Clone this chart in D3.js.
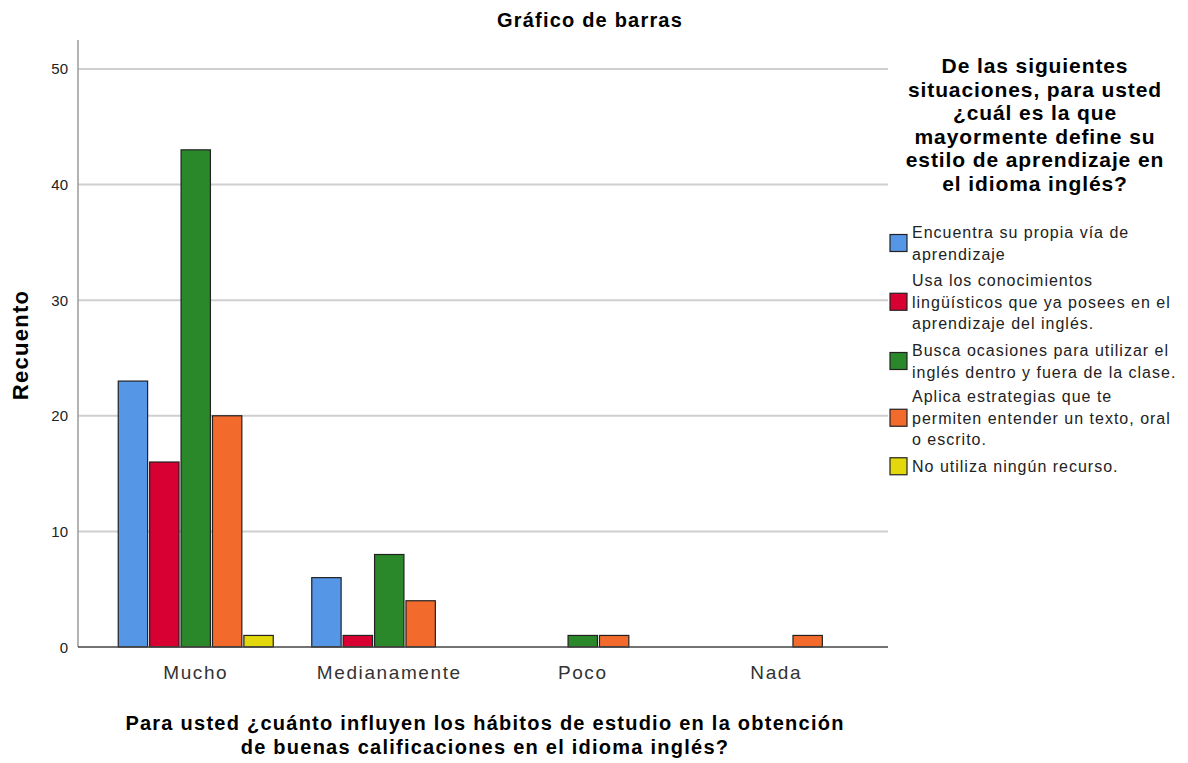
<!DOCTYPE html>
<html>
<head>
<meta charset="utf-8">
<script src="https://d3js.org/d3.v7.min.js"></script>
<style>
body { margin: 0; background: #fff; }
text { font-family: "Liberation Sans", Arial, sans-serif; fill: #000; }
</style>
</head>
<body>
<script>
// categories on the x axis
var categories = ["Mucho", "Medianamente", "Poco", "Nada"];

// legend series
var series = [
  "Encuentra su propia vía de aprendizaje",
  "Usa los conocimientos lingüísticos que ya posees en el aprendizaje del inglés.",
  "Busca ocasiones para utilizar el inglés dentro y fuera de la clase.",
  "Aplica estrategias que te permiten entender un texto, oral o escrito.",
  "No utiliza ningún recurso."
];

// legend label lines, as wrapped in the picture
var seriesLines = [
  ["Encuentra su propia vía de", "aprendizaje"],
  ["Usa los conocimientos", "lingüísticos que ya posees en el", "aprendizaje del inglés."],
  ["Busca ocasiones para utilizar el", "inglés dentro y fuera de la clase."],
  ["Aplica estrategias que te", "permiten entender un texto, oral", "o escrito."],
  ["No utiliza ningún recurso."]
];

var colors = ["#5596e6", "#d80033", "#2a872a", "#f26a2c", "#e3d80b"];

// counts per category, one array per series
var vals0 = [23, 6, 0, 0];
var vals1 = [16, 1, 0, 0];
var vals2 = [43, 8, 1, 0];
var vals3 = [20, 4, 1, 1];
var vals4 = [1, 0, 0, 0];
var values = [vals0, vals1, vals2, vals3, vals4];

var yTicks = [0, 10, 20, 30, 40, 50];

var width = 1188, height = 763;
var plotL = 78, plotR = 888, plotT = 40, plotB = 647;

var svg = d3.select("body").append("svg")
    .attr("width", width)
    .attr("height", height);

var x0 = d3.scaleBand()
    .domain(categories)
    .range([99, 873]);

var x1 = d3.scaleBand()
    .domain(d3.range(series.length))
    .range([0, 155])
    .paddingInner(0.065);

var y = d3.scaleLinear()
    .domain([0, 52.5])
    .range([plotB, plotT]);

// gridlines
svg.append("g")
    .selectAll("line")
    .data(yTicks.slice(1))
    .enter().append("line")
    .attr("x1", plotL).attr("x2", plotR)
    .attr("y1", function(d){ return y(d); })
    .attr("y2", function(d){ return y(d); })
    .style("stroke", "#cfcfcf")
    .style("stroke-width", 2);

// y axis line
svg.append("line")
    .attr("x1", plotL).attr("x2", plotL)
    .attr("y1", plotT).attr("y2", plotB)
    .style("stroke", "#9a9a9a")
    .style("stroke-width", 1.5);

// y tick labels
svg.append("g")
    .selectAll("text")
    .data(yTicks)
    .enter().append("text")
    .attr("x", 68)
    .attr("y", function(d){ return y(d) + 5.5; })
    .attr("text-anchor", "end")
    .style("font-size", "15px")
    .style("fill", "#222")
    .text(function(d){ return d; });

// bars
var rows = [];
values.forEach(function(arr, s){
  arr.forEach(function(v, c){
    if (v > 0) rows.push({s: s, c: categories[c], v: v});
  });
});

var pad = (x0.bandwidth() - 155) / 2;

svg.append("g")
    .selectAll("rect")
    .data(rows)
    .enter().append("rect")
    .attr("x", function(d){ return x0(d.c) + pad + x1(d.s); })
    .attr("y", function(d){ return y(d.v); })
    .attr("width", x1.bandwidth())
    .attr("height", function(d){ return plotB - y(d.v); })
    .style("fill", function(d){ return colors[d.s]; })
    .style("stroke", "#222")
    .style("stroke-width", 1.2);

// baseline
svg.append("line")
    .attr("x1", plotL).attr("x2", plotR)
    .attr("y1", plotB).attr("y2", plotB)
    .style("stroke", "#444")
    .style("stroke-width", 1.5);

// x tick labels
svg.append("g")
    .selectAll("text")
    .data(categories)
    .enter().append("text")
    .attr("x", function(d){ return x0(d) + x0.bandwidth() / 2; })
    .attr("y", 679)
    .attr("text-anchor", "middle")
    .style("font-size", "19px")
    .style("letter-spacing", "1.6px")
    .style("fill", "#333")
    .text(function(d){ return d; });

// title
svg.append("text")
    .attr("x", 590).attr("y", 27)
    .attr("text-anchor", "middle")
    .style("font-size", "20px")
    .style("letter-spacing", "1.2px")
    .style("font-weight", "bold")
    .text("Gráfico de barras");

// y axis title
svg.append("text")
    .attr("transform", "translate(28,345) rotate(-90)")
    .attr("text-anchor", "middle")
    .style("font-size", "22px")
    .style("letter-spacing", "1.3px")
    .style("font-weight", "bold")
    .text("Recuento");

// x axis title
var xTitle = ["Para usted ¿cuánto influyen los hábitos de estudio en la obtención",
              "de buenas calificaciones en el idioma inglés?"];
svg.append("g")
    .selectAll("text")
    .data(xTitle)
    .enter().append("text")
    .attr("x", 485)
    .attr("y", function(d, i){ return 730 + i * 24; })
    .attr("text-anchor", "middle")
    .style("font-size", "20px")
    .style("letter-spacing", "1.25px")
    .style("font-weight", "bold")
    .text(function(d){ return d; });

// legend title
var legTitle = ["De las siguientes", "situaciones, para usted", "¿cuál es la que",
                "mayormente define su", "estilo de aprendizaje en", "el idioma inglés?"];
svg.append("g")
    .selectAll("text")
    .data(legTitle)
    .enter().append("text")
    .attr("x", 1035)
    .attr("y", function(d, i){ return 73 + i * 23.6; })
    .attr("text-anchor", "middle")
    .style("font-size", "21px")
    .style("letter-spacing", "0.9px")
    .style("font-weight", "bold")
    .text(function(d){ return d; });

// legend items
var itemTop = [222, 270, 340, 386, 456];
var lineH = 21.5;
var leg = svg.append("g")
    .selectAll("g")
    .data(series)
    .enter().append("g");

leg.append("rect")
    .attr("x", 890)
    .attr("y", function(d, i){ return itemTop[i] + seriesLines[i].length * lineH / 2 - 9; })
    .attr("width", 17).attr("height", 17)
    .style("fill", function(d, i){ return colors[i]; })
    .style("stroke", "#222")
    .style("stroke-width", 1.2);

leg.each(function(d, i){
  d3.select(this).selectAll("text")
    .data(seriesLines[i])
    .enter().append("text")
    .attr("x", 912)
    .attr("y", function(t, j){ return itemTop[i] + 16 + j * lineH; })
    .style("font-size", "16px")
    .style("letter-spacing", "1px")
    .style("fill", "#222")
    .text(function(t){ return t; });
});
</script>
</body>
</html>
